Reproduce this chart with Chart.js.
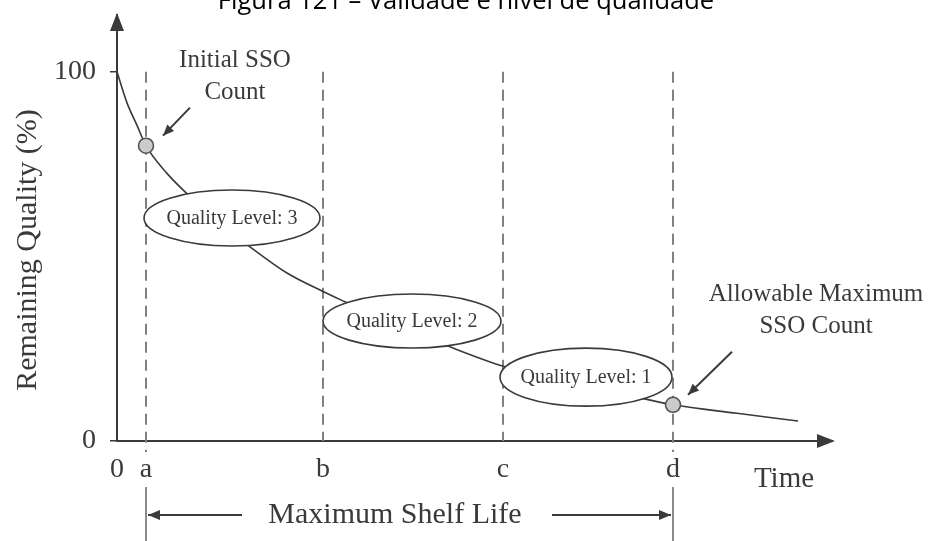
<!DOCTYPE html>
<html>
<head>
<meta charset="utf-8">
<script src="https://cdn.jsdelivr.net/npm/chart.js@4.4.1/dist/chart.umd.min.js"></script>
<style>
    body { margin: 0; background: #fff; }
    #wrap { width: 928px; height: 541px; position: relative; }
</style>
</head>
<body>
<div id="wrap"><canvas id="qChart"></canvas></div>
<script>
// tick positions on the time axis and their labels
const tickValues = [0, 2.9, 20.6, 38.6, 55.6];
const tickLabels = ['0', 'a', 'b', 'c', 'd'];
const yTickValues = [0, 100];

// remaining quality curve
const curveX = [0, 1, 2, 2.9, 5, 7, 10, 13.3, 17, 20.6, 22.8, 27, 33.3, 38.8, 45, 51, 55.6, 62, 68.1];
const curveY = [100, 91.6, 85.5, 80, 72.5, 67, 59.5, 52.6, 45.5, 40.5, 37.7, 32.5, 25.5, 20.1, 16, 12.5, 9.8, 7.5, 5.4];

// SSO count markers
const markerX = [2.9, 55.6];
const markerY = [80, 9.8];

// quality level bubbles
const levelLabels = ['Quality Level: 3', 'Quality Level: 2', 'Quality Level: 1'];
const levelX = [11.5, 29.5, 46.9];
const levelY = [60.4, 32.5, 17.3];

const titleText = 'Figura 121 – Validade e nível de qualidade';
const serif = '"Liberation Serif", "DejaVu Serif", serif';
const inkColor = '#3a3a3a';

function arrowHead(ctx, x1, y1, x2, y2, size) {
    const ang = Math.atan2(y2 - y1, x2 - x1);
    ctx.beginPath();
    ctx.moveTo(x2, y2);
    ctx.lineTo(x2 - size * Math.cos(ang - 0.4), y2 - size * Math.sin(ang - 0.4));
    ctx.lineTo(x2 - size * Math.cos(ang + 0.4), y2 - size * Math.sin(ang + 0.4));
    ctx.closePath();
    ctx.fill();
}

function arrowLine(ctx, x1, y1, x2, y2, size) {
    ctx.beginPath();
    ctx.moveTo(x1, y1);
    ctx.lineTo(x2, y2);
    ctx.stroke();
    arrowHead(ctx, x1, y1, x2, y2, size);
}

const decorPlugin = {
    id: 'decor',
    beforeDatasetsDraw(chart) {
        const ctx = chart.ctx;
        const xs = chart.scales.x, ys = chart.scales.y;
        const top = ys.getPixelForValue(100);
        const bottom = ys.getPixelForValue(0);
        ctx.save();
        // dashed verticals at a, b, c, d
        ctx.strokeStyle = '#808080';
        ctx.lineWidth = 2;
        ctx.setLineDash([11, 7]);
        tickValues.slice(1).forEach((v, i, arr) => {
            const px = xs.getPixelForValue(v);
            const extend = (i === 0 || i === arr.length - 1) ? 11 : 0;
            ctx.beginPath();
            ctx.moveTo(px, top);
            ctx.lineTo(px, bottom + extend);
            ctx.stroke();
        });
        ctx.restore();
    },
    afterDatasetDraw(chart, args) {
        if (args.meta.label !== 'curve') return;
        const ctx = chart.ctx;
        const xs = chart.scales.x, ys = chart.scales.y;
        ctx.save();
        ctx.font = '20px ' + serif;
        ctx.textAlign = 'center';
        ctx.textBaseline = 'middle';
        const rx = [88, 89, 86];
        const ry = [28, 27, 29];
        levelLabels.forEach((lbl, i) => {
            const cx = xs.getPixelForValue(levelX[i]);
            const cy = ys.getPixelForValue(levelY[i]);
            ctx.beginPath();
            ctx.ellipse(cx, cy, rx[i], ry[i], 0, 0, Math.PI * 2);
            ctx.fillStyle = '#fff';
            ctx.fill();
            ctx.strokeStyle = inkColor;
            ctx.lineWidth = 1.6;
            ctx.stroke();
            ctx.fillStyle = inkColor;
            ctx.fillText(lbl, cx, cy + 1);
        });
        ctx.restore();
    },
    afterDraw(chart) {
        const ctx = chart.ctx;
        const xs = chart.scales.x, ys = chart.scales.y;
        const area = chart.chartArea;
        const x0 = xs.getPixelForValue(0);
        const y0 = ys.getPixelForValue(0);
        ctx.save();
        ctx.fillStyle = inkColor;
        ctx.strokeStyle = inkColor;

        // axis arrow heads
        ctx.beginPath();
        ctx.moveTo(x0, area.top - 2);
        ctx.lineTo(x0 - 7, area.top + 16);
        ctx.lineTo(x0 + 7, area.top + 16);
        ctx.closePath();
        ctx.fill();
        ctx.beginPath();
        ctx.moveTo(area.right + 3, y0);
        ctx.lineTo(area.right - 15, y0 - 7);
        ctx.lineTo(area.right - 15, y0 + 7);
        ctx.closePath();
        ctx.fill();

        // title (cut off at the top like the source)
        ctx.fillStyle = '#000';
        ctx.font = '25.5px "Open Sans", "Liberation Sans", sans-serif';
        ctx.textAlign = 'center';
        ctx.textBaseline = 'alphabetic';
        ctx.fillText(titleText, 466, 9);

        ctx.fillStyle = inkColor;
        // y axis title
        ctx.save();
        ctx.translate(28, 250);
        ctx.rotate(-Math.PI / 2);
        ctx.font = '30px ' + serif;
        ctx.textBaseline = 'middle';
        ctx.fillText('Remaining Quality (%)', 0, 0);
        ctx.restore();

        // Time label
        ctx.font = '29px ' + serif;
        ctx.textBaseline = 'middle';
        ctx.fillText('Time', 784, 479);

        // marker callouts
        const m1x = xs.getPixelForValue(markerX[0]), m1y = ys.getPixelForValue(markerY[0]);
        const m2x = xs.getPixelForValue(markerX[1]), m2y = ys.getPixelForValue(markerY[1]);
        ctx.font = '25px ' + serif;
        ctx.fillText('Initial SSO', 235, 60);
        ctx.fillText('Count', 235, 92);
        ctx.fillText('Allowable Maximum', 816, 294);
        ctx.fillText('SSO Count', 816, 326);
        ctx.lineWidth = 2;
        arrowLine(ctx, m1x + 44, m1y - 38, m1x + 17, m1y - 10, 12);
        arrowLine(ctx, m2x + 59, m2y - 53, m2x + 15, m2y - 10, 12);

        // maximum shelf life span
        const ax = xs.getPixelForValue(tickValues[1]);
        const dx = xs.getPixelForValue(tickValues[4]);
        const sy = 515;
        ctx.lineWidth = 1.5;
        ctx.strokeStyle = '#666';
        [ax, dx].forEach(px => {
            ctx.beginPath();
            ctx.moveTo(px, 487);
            ctx.lineTo(px, 541);
            ctx.stroke();
        });
        ctx.strokeStyle = inkColor;
        ctx.lineWidth = 1.8;
        arrowLine(ctx, 242, sy, ax + 2, sy, 13);
        arrowLine(ctx, 552, sy, dx - 2, sy, 13);
        ctx.font = '30px ' + serif;
        ctx.fillText('Maximum Shelf Life', 395, sy);
        ctx.restore();
    }
};

const ctx = document.getElementById('qChart').getContext('2d');
new Chart(ctx, {
    type: 'line',
    data: {
        datasets: [{
            label: 'markers',
            data: markerX.map((x, i) => ({ x: x, y: markerY[i] })),
            showLine: false,
            pointRadius: 7.5,
            pointBackgroundColor: '#cbcbcb',
            pointBorderColor: '#555',
            pointBorderWidth: 1.6,
            order: 0
        }, {
            label: 'curve',
            data: curveX.map((x, i) => ({ x: x, y: curveY[i] })),
            borderColor: inkColor,
            borderWidth: 1.6,
            pointRadius: 0,
            fill: false,
            cubicInterpolationMode: 'monotone',
            order: 1
        }]
    },
    options: {
        responsive: true,
        maintainAspectRatio: false,
        animation: false,
        devicePixelRatio: 1,
        layout: { padding: { left: 0, top: 15, right: 96, bottom: 0 } },
        plugins: {
            legend: { display: false },
            tooltip: { enabled: false },
            title: { display: false }
        },
        scales: {
            x: {
                type: 'linear',
                min: 0,
                max: 71.5,
                afterBuildTicks: (scale) => { scale.ticks = tickValues.map(v => ({ value: v })); },
                afterFit: (scale) => {
                    scale.height = 100;
                    scale.paddingLeft = 0;
                    scale.paddingRight = 0;
                },
                grid: { display: false },
                border: { display: true, color: inkColor, width: 2 },
                ticks: {
                    autoSkip: false,
                    maxRotation: 0,
                    padding: 4,
                    color: inkColor,
                    font: { family: serif, size: 28 },
                    callback: (v) => tickLabels[tickValues.indexOf(v)]
                }
            },
            y: {
                type: 'linear',
                min: 0,
                max: 115.4,
                afterBuildTicks: (scale) => { scale.ticks = yTickValues.map(v => ({ value: v })); },
                afterFit: (scale) => {
                    scale.width = 117;
                    scale.paddingTop = 0;
                    scale.paddingBottom = 0;
                },
                grid: { display: true, drawOnChartArea: false, drawTicks: true, tickLength: 7, color: inkColor, lineWidth: 1.5 },
                border: { display: true, color: inkColor, width: 2 },
                ticks: {
                    padding: 14,
                    color: inkColor,
                    font: { family: serif, size: 28 }
                }
            }
        }
    },
    plugins: [decorPlugin]
});
</script>
</body>
</html>
